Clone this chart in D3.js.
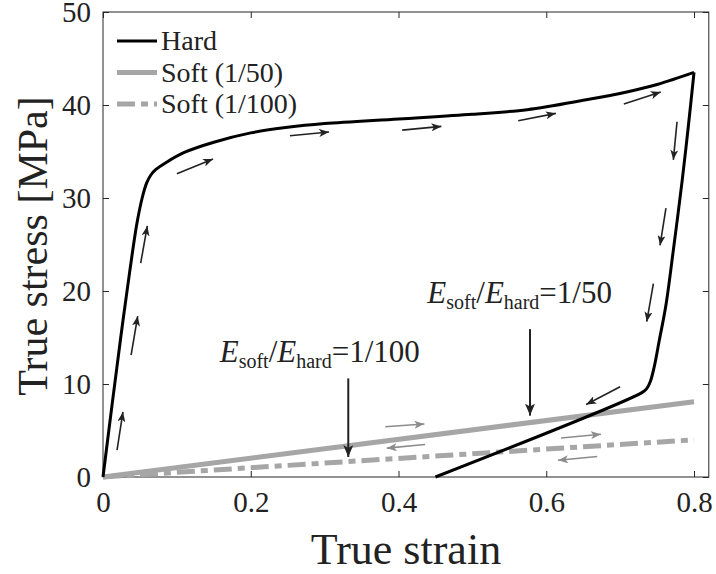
<!DOCTYPE html>
<html>
<head>
<meta charset="utf-8">
<script src="https://cdn.jsdelivr.net/npm/d3@7"></script>
<style>
  body { margin: 0; background: #fff; }
</style>
</head>
<body>
<svg id="chart" width="716" height="574"></svg>
<script>
// hard material: loading branch
var hardLoadStrain = [0, 0.012, 0.024, 0.036, 0.046, 0.053, 0.059, 0.065, 0.072, 0.085, 0.11, 0.15, 0.2, 0.25, 0.3, 0.4, 0.5, 0.574, 0.65, 0.709, 0.75, 0.8]
var hardLoadStress = [0, 7.6, 15.0, 22.0, 27.3, 30.0, 31.6, 32.5, 33.1, 33.8, 34.9, 36.0, 37.0, 37.6, 38.0, 38.5, 39.0, 39.5, 40.5, 41.4, 42.2, 43.5]
// hard material: unloading branch
var hardUnloadStrain = [0.8, 0.792, 0.784, 0.772, 0.762, 0.753, 0.746, 0.741, 0.736, 0.73, 0.45]
var hardUnloadStress = [43.5, 37.5, 31.9, 24.4, 18.5, 14.7, 11.8, 10.3, 9.5, 9.1, 0]
// soft materials (loading = unloading)
var softStrain = [0, 0.8]
var soft50Stress = [0, 8.1]
var soft100Stress = [0, 4.0]

var xTicks = [0, 0.2, 0.4, 0.6, 0.8]
var yTicks = [0, 10, 20, 30, 40, 50]
var legendNames = ["Hard", "Soft (1/50)", "Soft (1/100)"]

// direction arrows [strain0, stress0, strain1, stress1]
var blackArrows = [
    [0.019, 2.9, 0.027, 7.0],
    [0.038, 13.1, 0.047, 17.3],
    [0.051, 23.0, 0.060, 27.0],
    [0.100, 32.6, 0.149, 34.2],
    [0.253, 36.7, 0.306, 37.1],
    [0.405, 37.3, 0.458, 37.7],
    [0.562, 38.3, 0.613, 39.1],
    [0.705, 40.1, 0.755, 41.4],
    [0.777, 38.2, 0.772, 34.1],
    [0.762, 28.9, 0.754, 24.9],
    [0.745, 20.8, 0.736, 16.7],
    [0.700, 9.7, 0.654, 7.8]
]
var grayArrows = [
    [0.382, 5.4, 0.435, 5.7],
    [0.436, 3.5, 0.384, 3.1],
    [0.620, 4.2, 0.674, 4.6],
    [0.669, 2.2, 0.616, 1.8]
]
// annotation arrows
var noteArrows = [
    [0.332, 10.6, 0.332, 2.15],
    [0.578, 15.9, 0.578, 6.6]
]
var notes = [
    {strain: 0.158, stress: 12.4, ratio: "1/100"},
    {strain: 0.439, stress: 18.7, ratio: "1/50"}
]

var FONT = "'Liberation Serif', 'DejaVu Serif', 'Noto Serif', serif"
var svg = d3.select("#chart")
var axisColor = "#262626"
var grayColor = "#a6a6a6"

var x = d3.scaleLinear().domain([0, 0.82]).range([103, 708.8])
var y = d3.scaleLinear().domain([0, 50]).range([477, 12])

// markers
var defs = svg.append("defs")
function addMarker(id, color, len, wid) {
    defs.append("marker")
        .attr("id", id)
        .attr("markerUnits", "userSpaceOnUse")
        .attr("viewBox", "0 0 " + len + " " + wid)
        .attr("refX", len).attr("refY", wid / 2)
        .attr("markerWidth", len).attr("markerHeight", wid)
        .attr("orient", "auto")
        .append("path")
        .attr("d", "M0,0L" + len + "," + (wid / 2) + "L0," + wid + "L" + (len * 0.25) + "," + (wid / 2) + "Z")
        .attr("fill", color)
}
addMarker("headBlack", "#222", 10, 8)
addMarker("headGray", "#8c8c8c", 10, 8)
addMarker("headBig", "#222", 12, 10)

// axes (MATLAB style: inward ticks on all sides)
var xAxis = svg.append("g").attr("transform", "translate(0,477)")
    .call(d3.axisBottom(x).tickValues(xTicks).tickSizeInner(-6).tickSizeOuter(0).tickPadding(14)
        .tickFormat(function(d) { return d === 0 ? "0" : d3.format(".1f")(d) }))
var yAxis = svg.append("g").attr("transform", "translate(103,0)")
    .call(d3.axisLeft(y).tickValues(yTicks).tickSizeInner(-6).tickSizeOuter(0).tickPadding(12))
svg.append("g").attr("transform", "translate(0,12)")
    .call(d3.axisTop(x).tickValues(xTicks).tickSizeInner(-6).tickSizeOuter(0).tickFormat(""))
svg.append("g").attr("transform", "translate(708.8,0)")
    .call(d3.axisRight(y).tickValues(yTicks).tickSizeInner(-6).tickSizeOuter(0).tickFormat(""))
svg.selectAll(".domain").remove()
svg.selectAll("g").attr("font-family", FONT)
svg.selectAll(".tick line").attr("stroke", axisColor)
svg.selectAll(".tick text").attr("fill", "#222").attr("font-size", 29).attr("font-family", FONT)
xAxis.selectAll(".tick text").attr("dy", "0.72em")
yAxis.selectAll(".tick text").attr("dy", "0.34em")

svg.append("rect")
    .attr("x", x(0)).attr("y", y(50))
    .attr("width", x(0.82) - x(0)).attr("height", y(0) - y(50))
    .attr("fill", "none").attr("stroke", axisColor).attr("stroke-width", 1)

// axis labels
svg.append("text").attr("x", 406).attr("y", 564).attr("text-anchor", "middle")
    .attr("font-family", FONT).attr("font-size", 44).attr("fill", "#222").text("True strain")
svg.append("text").attr("transform", "translate(47,246) rotate(-90)").attr("text-anchor", "middle")
    .attr("font-family", FONT).attr("font-size", 42).attr("fill", "#222").text("True stress [MPa]")

var line = d3.line().x(function(d) { return x(d[0]) }).y(function(d) { return y(d[1]) })
var smooth = d3.line().curve(d3.curveCatmullRom.alpha(0.5))
    .x(function(d) { return x(d[0]) }).y(function(d) { return y(d[1]) })

// soft lines
svg.append("path").datum(d3.zip(softStrain, soft50Stress)).attr("d", line)
    .attr("fill", "none").attr("stroke", grayColor).attr("stroke-width", 5)
svg.append("path").datum(d3.zip(softStrain, soft100Stress)).attr("d", line)
    .attr("fill", "none").attr("stroke", grayColor).attr("stroke-width", 5)
    .attr("stroke-dasharray", "18,6,7,6")

// hard curve
svg.append("path").datum(d3.zip(hardLoadStrain, hardLoadStress)).attr("d", smooth)
    .attr("fill", "none").attr("stroke", "#000").attr("stroke-width", 3)
svg.append("path").datum(d3.zip(hardUnloadStrain, hardUnloadStress)).attr("d", smooth)
    .attr("fill", "none").attr("stroke", "#000").attr("stroke-width", 3)

// direction arrows
function drawArrows(list, color, marker, width) {
    svg.append("g").selectAll("line").data(list).enter().append("line")
        .attr("x1", function(d) { return x(d[0]) })
        .attr("y1", function(d) { return y(d[1]) })
        .attr("x2", function(d) { return x(d[2]) })
        .attr("y2", function(d) { return y(d[3]) })
        .attr("stroke", color).attr("stroke-width", width)
        .attr("marker-end", "url(#" + marker + ")")
}
drawArrows(blackArrows, "#222", "headBlack", 1.6)
drawArrows(grayArrows, "#8c8c8c", "headGray", 1.6)
drawArrows(noteArrows, "#222", "headBig", 2)

// annotations E_soft/E_hard = ratio
notes.forEach(function(n) {
    var t = svg.append("text").attr("x", x(n.strain)).attr("y", y(n.stress))
        .attr("font-family", FONT).attr("font-size", 31).attr("fill", "#222")
    t.append("tspan").attr("font-style", "italic").text("E")
    t.append("tspan").attr("font-size", 20).attr("dy", 6).text("soft")
    t.append("tspan").attr("dy", -6).text("/")
    t.append("tspan").attr("font-style", "italic").text("E")
    t.append("tspan").attr("font-size", 20).attr("dy", 6).text("hard")
    t.append("tspan").attr("dy", -6).text("=" + n.ratio)
})

// legend
var legend = svg.append("g")
legendNames.forEach(function(name, i) {
    var ly = 41 + i * 31.5
    var l = legend.append("line").attr("x1", 117).attr("x2", 157).attr("y1", ly).attr("y2", ly)
        .attr("stroke", i === 0 ? "#000" : grayColor).attr("stroke-width", i === 0 ? 3 : 5)
    if (i === 2) l.attr("stroke-dasharray", "18,6,7,6")
    legend.append("text").attr("x", 161).attr("y", ly + 9)
        .attr("font-family", FONT).attr("font-size", 28).attr("fill", "#222").text(name)
})
</script>
</body>
</html>
